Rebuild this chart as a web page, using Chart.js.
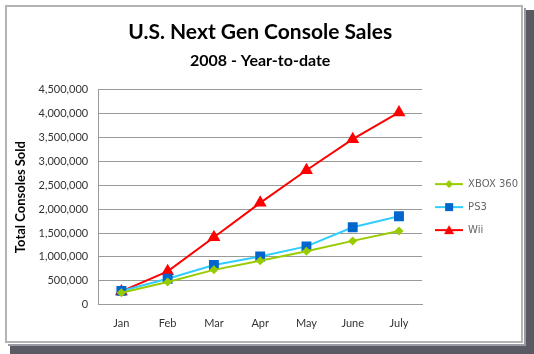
<!DOCTYPE html>
<html>
<head>
<meta charset="utf-8">
<script src="https://cdn.jsdelivr.net/npm/chart.js@4.4.1/dist/chart.umd.min.js"></script>
<style>
  html, body { margin: 0; padding: 0; background: #fff; }
  #wrap { position: relative; width: 534px; height: 354px; }
</style>
</head>
<body>
<div id="wrap"><canvas id="sales" width="534" height="354"></canvas></div>
<script>
const months = ['Jan', 'Feb', 'Mar', 'Apr', 'May', 'June', 'July'];
const xbox360 = [250000, 475000, 730000, 920000, 1120000, 1335000, 1540000];
const ps3 = [290000, 545000, 830000, 1010000, 1220000, 1620000, 1850000];
const wii = [280000, 700000, 1410000, 2130000, 2810000, 3460000, 4020000];

const yMax = 4500000;
const yStep = 500000;

// little line+marker swatches for the legend, like Excel draws them
function swatch(lineColor, markColor, shape) {
    const c = document.createElement('canvas');
    c.width = 28; c.height = 12;
    const g = c.getContext('2d');
    g.strokeStyle = lineColor;
    g.lineWidth = 2;
    g.beginPath(); g.moveTo(0, 6); g.lineTo(28, 6); g.stroke();
    g.fillStyle = markColor;
    g.beginPath();
    if (shape === 'diamond') {
        g.moveTo(14, 2); g.lineTo(18, 6); g.lineTo(14, 10); g.lineTo(10, 6);
    } else if (shape === 'square') {
        g.rect(10, 2, 8, 8);
    } else {
        g.moveTo(14, 1); g.lineTo(19, 10); g.lineTo(9, 10);
    }
    g.closePath(); g.fill();
    return c;
}

const frame = {
    id: 'frame',
    beforeDraw(chart) {
        const ctx = chart.ctx;
        ctx.save();
        ctx.fillStyle = '#ffffff';
        ctx.fillRect(0, 0, chart.width, chart.height);
        // drop shadow right and bottom
        ctx.fillStyle = '#5a5a62';
        ctx.fillRect(526, 10, 8, 344);
        ctx.fillRect(10, 346, 524, 8);
        ctx.fillStyle = '#9a9aa2';
        ctx.fillRect(524, 8, 2, 338);
        ctx.fillRect(8, 344, 518, 2);
        ctx.strokeStyle = '#b4b4b4';
        ctx.lineWidth = 2;
        ctx.strokeRect(6, 6, 516, 336);
        ctx.restore();
    }
};

const datasets = [
    { label: 'XBOX 360', data: xbox360, borderColor: '#99cc00', backgroundColor: '#99cc00',
      pointStyle: 'rectRot', pointRadius: 4.5, legendMark: swatch('#99cc00', '#99cc00', 'diamond') },
    { label: 'PS3', data: ps3, borderColor: '#33ccff', backgroundColor: '#0066cc',
      pointStyle: 'rect', pointRadius: 7, legendMark: swatch('#33ccff', '#0066cc', 'square') },
    { label: 'Wii', data: wii, borderColor: '#ff0000', backgroundColor: '#ff0000',
      pointStyle: 'triangle', pointRadius: 7.5, legendMark: swatch('#ff0000', '#ff0000', 'triangle') }
];
datasets.forEach(d => {
    d.borderWidth = 2;
    d.pointBorderWidth = 0;
    d.tension = 0;
});

new Chart(document.getElementById('sales'), {
    type: 'line',
    data: { labels: months, datasets: datasets },
    plugins: [frame],
    options: {
        responsive: false,
        animation: false,
        layout: { padding: { left: 13, right: 6, top: 12, bottom: 12 } },
        scales: {
            x: {
                offset: true,
                grid: { display: false, drawTicks: false },
                border: { color: '#9a9a9a', width: 1 },
                ticks: { color: '#333', padding: 12, font: { family: 'Lato', size: 11 } }
            },
            y: {
                min: 0,
                max: yMax,
                grid: { color: '#9a9a9a', drawTicks: false },
                border: { color: '#9a9a9a', width: 1 },
                ticks: { stepSize: yStep, color: '#333', padding: 10, font: { family: 'Lato', size: 11 } },
                title: { display: true, text: 'Total Consoles Sold', color: '#000',
                         font: { family: 'Lato', size: 13, weight: 'bold' }, padding: 0 }
            }
        },
        plugins: {
            title: { display: true, fullSize: false, text: 'U.S. Next Gen Console Sales', color: '#000',
                     font: { family: 'Lato', size: 21, weight: 'bold' }, padding: { top: 8, bottom: 4 } },
            subtitle: { display: true, fullSize: false, text: '2008 - Year-to-date', color: '#000',
                        font: { family: 'Lato', size: 16, weight: 'bold' }, padding: { top: 2, bottom: 19 } },
            legend: {
                position: 'right',
                fullSize: false,
                title: { display: true, text: ' ', font: { size: 10 }, padding: 4 },
                labels: {
                    usePointStyle: true,
                    pointStyleWidth: 28,
                    boxHeight: 12,
                    padding: 13,
                    color: '#222',
                    font: { family: 'DejaVu Sans', size: 10 },
                    generateLabels(chart) {
                        return chart.data.datasets.map((d, i) => ({
                            text: d.label,
                            pointStyle: d.legendMark,
                            fillStyle: d.backgroundColor,
                            strokeStyle: d.borderColor,
                            lineWidth: 0,
                            hidden: false,
                            datasetIndex: i
                        }));
                    }
                }
            },
            tooltip: { enabled: false }
        }
    }
});
</script>
</body>
</html>
